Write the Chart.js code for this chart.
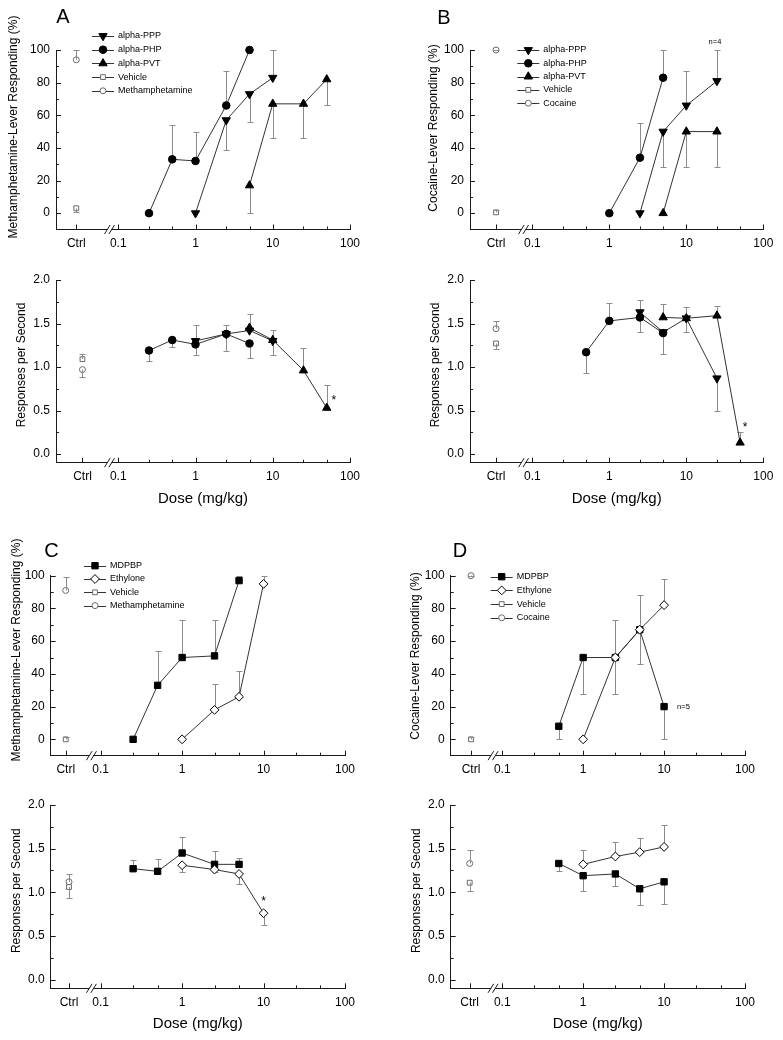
<!DOCTYPE html>
<html>
<head>
<meta charset="utf-8">
<script src="https://cdn.jsdelivr.net/npm/chart.js@4.4.0/dist/chart.umd.min.js"></script>
<style>
  html, body { margin: 0; padding: 0; background: #fff; }
  #wrap { position: relative; width: 783px; height: 1040px; overflow: hidden; }
  #wrap canvas { position: absolute; }
</style>
</head>
<body>
<div id="wrap"></div>
<script>
// ---------- axis ticks ----------
const doseTicks = [0.1, 1, 10, 100];
const doseMinorTicks = [0.25, 0.5, 2.5, 5, 25, 50];
const pctTicks = [0, 20, 40, 60, 80, 100];
const pctMinorTicks = [10, 30, 50, 70, 90];
const rateTicks = [0, 0.5, 1, 1.5, 2];
const rateMinorTicks = [0.25, 0.75, 1.25, 1.75];

// errors are one-sided: + drawn upward, - drawn downward, null = none
// ---------- panel A (methamphetamine-trained) ----------
const doseA_PPP = [1, 2.5, 5, 10];
const pctA_PPP = [0, 57, 73, 83];
const pctErrA_PPP = [null, -18, -17, 17];
const rateA_PPP = [1.30, 1.38, 1.42, 1.30];
const rateErrA_PPP = [0.18, 0.10, null, -0.16];

const doseA_PHP = [0.25, 0.5, 1, 2.5, 5];
const pctA_PHP = [0, 33, 32, 66, 100];
const pctErrA_PHP = [null, 21, 18, 21, null];
const rateA_PHP = [1.19, 1.31, 1.26, 1.38, 1.27];
const rateErrA_PHP = [-0.12, -0.08, -0.12, -0.20, -0.17];

const doseA_PVT = [5, 10, 25, 50];
const pctA_PVT = [17, 67, 67, 82];
const pctErrA_PVT = [-17, -21, -21, -16];
const rateA_PVT = [1.45, 1.31, 0.96, 0.53];
const rateErrA_PVT = [0.16, 0.11, 0.26, 0.26];

// control values: [lever %, responses/s]
const ctrlA_Vehicle = [3, 1.09];
const ctrlErrA_Vehicle = [-2.5, 0.06];
const ctrlA_Meth = [94, 0.97];
const ctrlErrA_Meth = [6, -0.09];

// ---------- panel B (cocaine-trained) ----------
const doseB_PPP = [2.5, 5, 10, 25];
const pctB_PPP = [0, 50, 66, 81];
const pctErrB_PPP = [null, -22, 21, 19];
const rateB_PPP = [1.63, 1.40, 1.56, 0.87];
const rateErrB_PPP = [0.14, null, -0.16, -0.38];

const doseB_PHP_pct = [1, 2.5, 5];
const pctB_PHP = [0, 34, 83];
const pctErrB_PHP = [null, 21, 17];
const doseB_PHP_rate = [0.5, 1, 2.5, 5];
const rateB_PHP = [1.17, 1.53, 1.57, 1.39];
const rateErrB_PHP = [-0.24, 0.21, -0.17, -0.24];

const doseB_PVT_pct = [5, 10, 25];
const pctB_PVT = [0, 50, 50];
const pctErrB_PVT = [null, -22, -22];
const doseB_PVT_rate = [5, 10, 25, 50];
const rateB_PVT = [1.57, 1.56, 1.59, 0.13];
const rateErrB_PVT = [0.15, 0.13, 0.11, 0.12];

const ctrlB_Vehicle = [0.5, 1.27];
const ctrlErrB_Vehicle = [1.5, -0.06];
const ctrlB_Cocaine = [100, 1.44];
const ctrlErrB_Cocaine = [0, 0.09];

// ---------- panel C (methamphetamine-trained) ----------
const doseC_MDPBP = [0.25, 0.5, 1, 2.5, 5];
const pctC_MDPBP = [0, 33, 50, 51, 97];
const pctErrC_MDPBP = [null, 21, 23, 22, 3];
const rateC_MDPBP = [1.27, 1.24, 1.45, 1.32, 1.32];
const rateErrC_MDPBP = [0.10, 0.14, 0.18, 0.15, 0.07];

const doseC_Ethylone = [1, 2.5, 5, 10];
const pctC_Ethylone = [0, 18, 26, 95];
const pctErrC_Ethylone = [null, 16, 16, 5];
const rateC_Ethylone = [1.31, 1.26, 1.21, 0.76];
const rateErrC_Ethylone = [-0.08, -0.03, -0.11, -0.13];

const ctrlC_Vehicle = [0, 1.06];
const ctrlErrC_Vehicle = [1.5, -0.12];
const ctrlC_Meth = [91, 1.12];
const ctrlErrC_Meth = [8.5, 0.09];

// ---------- panel D (cocaine-trained) ----------
const doseD_MDPBP = [0.5, 1, 2.5, 5, 10];
const pctD_MDPBP = [8, 50, 50, 67, 20];
const pctErrD_MDPBP = [-8, -22.5, -22.5, -21, -20];
const rateD_MDPBP = [1.33, 1.19, 1.21, 1.04, 1.12];
const rateErrD_MDPBP = [-0.09, -0.17, -0.14, -0.18, -0.25];

const doseD_Ethylone = [1, 2.5, 5, 10];
const pctD_Ethylone = [0, 50, 67, 82];
const pctErrD_Ethylone = [null, 23, 21, 16];
const rateD_Ethylone = [1.32, 1.41, 1.46, 1.52];
const rateErrD_Ethylone = [0.16, 0.17, 0.16, 0.25];

const ctrlD_Vehicle = [0, 1.11];
const ctrlErrD_Vehicle = [1.5, -0.1];
const ctrlD_Cocaine = [100, 1.33];
const ctrlErrD_Cocaine = [0, 0.16];

// ---------- styling ----------
const FONT = "'Liberation Sans', Arial, sans-serif";
const AXIS = '#1a1a1a';
const LINE = '#333';
const ERR = '#8c8c8c';
const GRAY = '#6a6a6a';
const BREAK_X = 0.077;
const CAP = 3;

const STYLE = {
  PPP:      { pointStyle: 'triangle', rotation: 180, radius: 4.8, bg: '#000', bd: '#000' },
  PHP:      { pointStyle: 'circle',   rotation: 0,   radius: 3.8, bg: '#000', bd: '#000' },
  PVT:      { pointStyle: 'triangle', rotation: 0,   radius: 4.8, bg: '#000', bd: '#000' },
  MDPBP:    { pointStyle: 'rect',     rotation: 0,   radius: 4.5, bg: '#000', bd: '#000' },
  Ethylone: { pointStyle: 'rectRot',  rotation: 0,   radius: 4.4, bg: '#fff', bd: '#000' },
  Vehicle:  { pointStyle: 'rect',     rotation: 0,   radius: 3.4, bg: '#fff', bd: GRAY },
  Drug:     { pointStyle: 'circle',   rotation: 0,   radius: 3.0, bg: '#fff', bd: GRAY }
};

function series(label, st, dose, vals, errs, order) {
  const s = STYLE[st];
  return {
    label: label,
    data: dose.map((d, i) => ({ x: d, y: vals[i] })),
    errs: errs,
    showLine: true,
    borderColor: LINE,
    borderWidth: 1,
    pointStyle: s.pointStyle,
    pointRotation: s.rotation,
    pointRadius: s.radius,
    pointBackgroundColor: s.bg,
    pointBorderColor: s.bd,
    pointBorderWidth: 1,
    clip: false,
    order: order
  };
}

function ctrl(label, st, x, val, err) {
  const ds = series(label, st, [x], [val], [err], 5);
  ds.showLine = false;
  ds.errOnTop = true;
  return ds;
}

// ---------- plugins ----------
const errorBars = {
  id: 'errorBars',
  draw(chart, onTop) {
    const { ctx } = chart;
    const ys = chart.scales.y;
    ctx.save();
    ctx.strokeStyle = ERR;
    ctx.lineWidth = 1;
    chart.data.datasets.forEach((ds, di) => {
      if (!ds.errs || !!ds.errOnTop !== onTop) return;
      const meta = chart.getDatasetMeta(di);
      meta.data.forEach((pt, i) => {
        const e = ds.errs[i];
        if (e === null || e === undefined) return;
        const v = ds.data[i].y;
        const x = Math.round(pt.x) + 0.5;
        const y0 = ys.getPixelForValue(v);
        const y1 = Math.round(ys.getPixelForValue(v + e)) + 0.5;
        ctx.beginPath();
        ctx.moveTo(x, y0);
        ctx.lineTo(x, y1);
        ctx.moveTo(x - CAP, y1);
        ctx.lineTo(x + CAP, y1);
        ctx.stroke();
      });
    });
    ctx.restore();
  },
  beforeDatasetsDraw(chart) { this.draw(chart, false); },
  afterDatasetsDraw(chart) { this.draw(chart, true); }
};

const axisDecor = {
  id: 'axisDecor',
  afterDraw(chart, args, o) {
    const { ctx, chartArea: a } = chart;
    const xs = chart.scales.x, ys = chart.scales.y;
    ctx.save();
    ctx.strokeStyle = AXIS;
    ctx.lineWidth = 1;
    ctx.beginPath();
    const xt = (v, len) => {
      const px = Math.round(xs.getPixelForValue(v)) + 0.5;
      ctx.moveTo(px, a.bottom);
      ctx.lineTo(px, a.bottom - len);
    };
    const yt = (v, len) => {
      const py = Math.round(ys.getPixelForValue(v)) + 0.5;
      ctx.moveTo(a.left, py);
      ctx.lineTo(a.left + len, py);
    };
    [o.ctrlX].concat(doseTicks).forEach(v => xt(v, 5));
    doseMinorTicks.forEach(v => xt(v, 3));
    (o.pct ? pctTicks : rateTicks).forEach(v => yt(v, 5));
    (o.pct ? pctMinorTicks : rateMinorTicks).forEach(v => yt(v, 3));
    ctx.stroke();

    // axis break "//"
    const bx = xs.getPixelForValue(BREAK_X), by = a.bottom;
    ctx.fillStyle = '#fff';
    ctx.fillRect(bx - 2, by - 1.5, 4, 3);
    ctx.beginPath();
    [-2.2, 2.2].forEach(dx => {
      ctx.moveTo(bx + dx - 2.8, by + 4.5);
      ctx.lineTo(bx + dx + 2.8, by - 4.5);
    });
    ctx.stroke();
    ctx.restore();
  }
};

const panelText = {
  id: 'panelText',
  afterDraw(chart, args, o) {
    const { ctx } = chart;
    const ox = o.origin[0], oy = o.origin[1];
    ctx.save();
    ctx.fillStyle = '#000';
    ctx.textBaseline = 'middle';
    if (o.letter) {
      ctx.font = '20px ' + FONT;
      ctx.textAlign = 'center';
      ctx.fillText(o.letter[0], o.letter[1] - ox, o.letter[2] - oy);
    }
    if (o.yTitle) {
      ctx.save();
      ctx.font = '12px ' + FONT;
      ctx.textAlign = 'center';
      ctx.translate(o.yTitle[1] - ox, o.yTitle[2] - oy);
      ctx.rotate(-Math.PI / 2);
      ctx.fillText(o.yTitle[0], 0, 0);
      ctx.restore();
    }
    (o.notes || []).forEach(n => {
      ctx.font = n.size + 'px ' + FONT;
      ctx.textAlign = n.align || 'center';
      const px = chart.scales.x.getPixelForValue(n.x) + n.dx;
      const py = chart.scales.y.getPixelForValue(n.y) + n.dy;
      ctx.fillText(n.text, px, py);
    });
    ctx.restore();
  }
};

const sideLegend = {
  id: 'sideLegend',
  afterDraw(chart, args, o) {
    if (!o.at) return;
    const { ctx } = chart;
    const mx = o.at[0] - o.origin[0];
    let y = o.at[1] - o.origin[1];
    ctx.save();
    ctx.font = '9px ' + FONT;
    ctx.textBaseline = 'middle';
    ctx.textAlign = 'left';
    chart.data.datasets.forEach(ds => {
      ctx.strokeStyle = LINE;
      ctx.lineWidth = 1;
      ctx.beginPath();
      ctx.moveTo(mx - 11, Math.round(y) + 0.5);
      ctx.lineTo(mx + 11, Math.round(y) + 0.5);
      ctx.stroke();
      ctx.fillStyle = ds.pointBackgroundColor;
      ctx.strokeStyle = ds.pointBorderColor;
      Chart.helpers.drawPoint(ctx, {
        pointStyle: ds.pointStyle,
        rotation: ds.pointRotation,
        radius: ds.pointRadius,
        borderWidth: 1
      }, mx, y);
      ctx.fillStyle = '#000';
      ctx.fillText(ds.label, mx + 15, y);
      y += o.at[2];
    });
    ctx.restore();
  }
};

// ---------- panel layout ----------
const panels = [
  { box: [0, 0, 390, 255], area: [56, 350, 50, 229.5], xMin: 0.01563, ctrlX: 0.0286, pct: true,
    letter: ['A', 63, 17], yTitle: ['Methamphetamine-Lever Responding (%)', 14, 127],
    legend: [103, 36, 13.7], notes: [],
    datasets: [
      series('alpha-PPP', 'PPP', doseA_PPP, pctA_PPP, pctErrA_PPP, 2),
      series('alpha-PHP', 'PHP', doseA_PHP, pctA_PHP, pctErrA_PHP, 1),
      series('alpha-PVT', 'PVT', doseA_PVT, pctA_PVT, pctErrA_PVT, 0),
      ctrl('Vehicle', 'Vehicle', 0.0286, ctrlA_Vehicle[0], ctrlErrA_Vehicle[0]),
      ctrl('Methamphetamine', 'Drug', 0.0286, ctrlA_Meth[0], ctrlErrA_Meth[0])
    ] },
  { box: [0, 255, 390, 255], area: [56, 350, 280, 462.7], xMin: 0.01563, ctrlX: 0.0344, pct: false,
    yTitle: ['Responses per Second', 22, 365],
    notes: [{ x: 50, y: rateA_PVT[3], dx: 7, dy: -7, text: '*', size: 12 }],
    datasets: [
      series('alpha-PPP', 'PPP', doseA_PPP, rateA_PPP, rateErrA_PPP, 2),
      series('alpha-PHP', 'PHP', doseA_PHP, rateA_PHP, rateErrA_PHP, 1),
      series('alpha-PVT', 'PVT', doseA_PVT, rateA_PVT, rateErrA_PVT, 0),
      ctrl('Vehicle', 'Vehicle', 0.0344, ctrlA_Vehicle[1], ctrlErrA_Vehicle[1]),
      ctrl('Methamphetamine', 'Drug', 0.0344, ctrlA_Meth[1], ctrlErrA_Meth[1])
    ] },
  { box: [390, 0, 393, 255], area: [470, 763.3, 50, 229.5], xMin: 0.01552, ctrlX: 0.0338, pct: true,
    letter: ['B', 444, 18], yTitle: ['Cocaine-Lever Responding (%)', 434, 128],
    legend: [528.3, 50, 13.3],
    notes: [{ x: 25, y: 100, dx: -2, dy: -8, text: 'n=4', size: 7.5 }],
    datasets: [
      series('alpha-PPP', 'PPP', doseB_PPP, pctB_PPP, pctErrB_PPP, 2),
      series('alpha-PHP', 'PHP', doseB_PHP_pct, pctB_PHP, pctErrB_PHP, 1),
      series('alpha-PVT', 'PVT', doseB_PVT_pct, pctB_PVT, pctErrB_PVT, 0),
      ctrl('Vehicle', 'Vehicle', 0.0338, ctrlB_Vehicle[0], ctrlErrB_Vehicle[0]),
      ctrl('Cocaine', 'Drug', 0.0338, ctrlB_Cocaine[0], ctrlErrB_Cocaine[0])
    ] },
  { box: [390, 255, 393, 255], area: [470, 763.3, 280, 462.7], xMin: 0.01552, ctrlX: 0.0338, pct: false,
    yTitle: ['Responses per Second', 435.7, 365],
    notes: [{ x: 50, y: rateB_PVT[3], dx: 5, dy: -15, text: '*', size: 12 }],
    datasets: [
      series('alpha-PPP', 'PPP', doseB_PPP, rateB_PPP, rateErrB_PPP, 2),
      series('alpha-PHP', 'PHP', doseB_PHP_rate, rateB_PHP, rateErrB_PHP, 1),
      series('alpha-PVT', 'PVT', doseB_PVT_rate, rateB_PVT, rateErrB_PVT, 0),
      ctrl('Vehicle', 'Vehicle', 0.0338, ctrlB_Vehicle[1], ctrlErrB_Vehicle[1]),
      ctrl('Cocaine', 'Drug', 0.0338, ctrlB_Cocaine[1], ctrlErrB_Cocaine[1])
    ] },
  { box: [0, 510, 390, 270], area: [50.7, 345, 575.7, 755.7], xMin: 0.02432, ctrlX: 0.0372, pct: true,
    letter: ['C', 51.5, 551.5], yTitle: ['Methamphetamine-Lever Responding (%)', 16.5, 650],
    legend: [95, 565.7, 13.3], notes: [],
    datasets: [
      series('MDPBP', 'MDPBP', doseC_MDPBP, pctC_MDPBP, pctErrC_MDPBP, 1),
      series('Ethylone', 'Ethylone', doseC_Ethylone, pctC_Ethylone, pctErrC_Ethylone, 0),
      ctrl('Vehicle', 'Vehicle', 0.0372, ctrlC_Vehicle[0], ctrlErrC_Vehicle[0]),
      ctrl('Methamphetamine', 'Drug', 0.0372, ctrlC_Meth[0], ctrlErrC_Meth[0])
    ] },
  { box: [0, 780, 390, 260], area: [50.7, 345, 805, 988.3], xMin: 0.02432, ctrlX: 0.0408, pct: false,
    yTitle: ['Responses per Second', 17, 890.7],
    notes: [{ x: 10, y: rateC_Ethylone[3], dx: 0, dy: -12, text: '*', size: 12 }],
    datasets: [
      series('MDPBP', 'MDPBP', doseC_MDPBP, rateC_MDPBP, rateErrC_MDPBP, 1),
      series('Ethylone', 'Ethylone', doseC_Ethylone, rateC_Ethylone, rateErrC_Ethylone, 0),
      ctrl('Vehicle', 'Vehicle', 0.0408, ctrlC_Vehicle[1], ctrlErrC_Vehicle[1]),
      ctrl('Methamphetamine', 'Drug', 0.0408, ctrlC_Meth[1], ctrlErrC_Meth[1])
    ] },
  { box: [390, 510, 393, 270], area: [450.7, 745, 575.7, 755.7], xMin: 0.02307, ctrlX: 0.0411, pct: true,
    letter: ['D', 460, 551.5], yTitle: ['Cocaine-Lever Responding (%)', 416, 656],
    legend: [501.7, 576.7, 13.7],
    notes: [{ x: 10, y: pctD_MDPBP[4], dx: 13, dy: 0, text: 'n=5', size: 7.5, align: 'left' }],
    datasets: [
      series('MDPBP', 'MDPBP', doseD_MDPBP, pctD_MDPBP, pctErrD_MDPBP, 1),
      series('Ethylone', 'Ethylone', doseD_Ethylone, pctD_Ethylone, pctErrD_Ethylone, 0),
      ctrl('Vehicle', 'Vehicle', 0.0411, ctrlD_Vehicle[0], ctrlErrD_Vehicle[0]),
      ctrl('Cocaine', 'Drug', 0.0411, ctrlD_Cocaine[0], ctrlErrD_Cocaine[0])
    ] },
  { box: [390, 780, 393, 260], area: [450.7, 745, 805, 988.3], xMin: 0.02307, ctrlX: 0.0396, pct: false,
    yTitle: ['Responses per Second', 417, 890.7], notes: [],
    datasets: [
      series('MDPBP', 'MDPBP', doseD_MDPBP, rateD_MDPBP, rateErrD_MDPBP, 1),
      series('Ethylone', 'Ethylone', doseD_Ethylone, rateD_Ethylone, rateErrD_Ethylone, 0),
      ctrl('Vehicle', 'Vehicle', 0.0396, ctrlD_Vehicle[1], ctrlErrD_Vehicle[1]),
      ctrl('Cocaine', 'Drug', 0.0396, ctrlD_Cocaine[1], ctrlErrD_Cocaine[1])
    ] }
];

const wrap = document.getElementById('wrap');

panels.forEach(p => {
  const [bx, by, bw, bh] = p.box;
  const [aL, aR, aT, aB] = p.area;
  const cv = document.createElement('canvas');
  cv.width = bw;
  cv.height = bh;
  cv.style.left = bx + 'px';
  cv.style.top = by + 'px';
  wrap.appendChild(cv);

  const tickFont = { family: FONT, size: 12 };
  new Chart(cv.getContext('2d'), {
    type: 'scatter',
    data: { datasets: p.datasets },
    options: {
      responsive: false,
      animation: false,
      events: [],
      layout: { padding: { left: 0, right: bx + bw - aR, top: aT - by, bottom: 0 } },
      plugins: {
        legend: { display: false },
        tooltip: { enabled: false },
        panelText: { origin: [bx, by], letter: p.letter, yTitle: p.yTitle, notes: p.notes },
        sideLegend: { origin: [bx, by], at: p.legend },
        axisDecor: { ctrlX: p.ctrlX, pct: p.pct }
      },
      scales: {
        x: {
          type: 'logarithmic',
          min: p.xMin,
          max: 100,
          bounds: 'data',
          grid: { display: true, drawOnChartArea: false, drawTicks: false },
          border: { display: true, color: AXIS, width: 1 },
          afterBuildTicks: s => { s.ticks = [p.ctrlX].concat(doseTicks).map(v => ({ value: v })); },
          afterFit: s => { s.height = by + bh - aB; },
          ticks: {
            autoSkip: false, maxRotation: 0, padding: 7, color: '#000', font: tickFont,
            callback: v => (v === p.ctrlX ? 'Ctrl' : String(v))
          },
          title: {
            display: !p.pct, text: 'Dose (mg/kg)', color: '#000',
            font: { family: FONT, size: 15 },
            padding: { top: 0, bottom: by + bh > 1000 ? 7 : 2 }
          }
        },
        y: {
          type: 'linear',
          min: p.pct ? -10 : -0.1,
          max: p.pct ? 100 : 2,
          grid: { display: true, drawOnChartArea: false, drawTicks: false },
          border: { display: true, color: AXIS, width: 1 },
          afterBuildTicks: s => { s.ticks = (p.pct ? pctTicks : rateTicks).map(v => ({ value: v })); },
          afterFit: s => { s.width = aL - bx; },
          ticks: {
            padding: 6, color: '#000', font: tickFont,
            callback: v => (p.pct ? String(v) : v.toFixed(1))
          }
        }
      }
    },
    plugins: [errorBars, axisDecor, panelText, sideLegend]
  });
});
</script>
</body>
</html>
